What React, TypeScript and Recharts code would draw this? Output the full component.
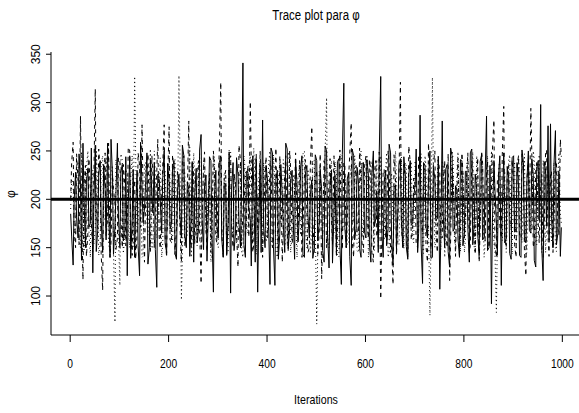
import { LineChart, Line, XAxis, YAxis, ReferenceLine } from 'recharts';

// three MCMC chains; main values at iterations 1,6,11,... and mid values at 3,8,13,...
const iterations = Array.from({ length: 200 }, (_, i) => 1 + i * 5);
const midIterations = Array.from({ length: 200 }, (_, i) => 3 + i * 5);

const chainSolid = [
  185, 132, 228, 160, 215, 258, 150, 232, 175, 124, 256, 168, 240, 145, 210, 258, 140, 225, 172, 258,
  150, 236, 165, 121, 245, 180, 140, 230, 121, 215, 190, 248, 150, 205, 238, 109, 220, 165, 250, 145,
  218, 175, 240, 138, 226, 160, 245, 150, 210, 185, 135, 232, 170, 267, 148, 225, 190, 240, 104, 230,
  160, 245, 140, 215, 178, 103, 238, 165, 225, 150, 341, 140, 228, 180, 245, 135, 104, 236, 282, 150,
  220, 112, 248, 111, 230, 165, 205, 145, 252, 170, 230, 138, 215, 185, 245, 140, 235, 160, 220, 150,
  240, 175, 210, 135, 250, 129, 230, 185, 145, 242, 112, 320, 150, 228, 111, 245, 170, 215, 140, 238,
  160, 225, 135, 250, 180, 145, 327, 140, 230, 170, 248, 132, 215, 190, 242, 150, 225, 138, 240, 175,
  215, 145, 287, 113, 235, 160, 250, 140, 222, 180, 107, 281, 150, 236, 130, 245, 170, 210, 140, 240,
  165, 228, 135, 252, 175, 210, 142, 246, 160, 286, 150, 92, 240, 175, 230, 111, 248, 160, 222, 138,
  245, 170, 215, 140, 238, 155, 250, 165, 225, 130, 240, 298, 116, 230, 276, 278, 150, 271, 165, 141,
];

const chainSolidMid = [
  162, 198, 181, 247, 137, 204, 219, 171, 253, 193, 146, 227, 178, 236, 158, 189, 262, 143, 207, 184,
  228, 157, 244, 196, 139, 231, 188, 152, 259, 176, 212, 133, 241, 186, 148, 226, 199, 221, 154, 237,
  169, 233, 144, 209, 182, 256, 161, 218, 141, 239, 203, 155, 251, 179, 214, 136, 244, 167, 201, 173,
  238, 159, 217, 142, 249, 211, 147, 243, 176, 206, 153, 229, 191, 131, 213, 242, 168, 145, 172, 235,
  178, 253, 151, 222, 138, 236, 174, 258, 149, 219, 181, 241, 156, 232, 143, 227, 184, 205, 139, 246,
  157, 231, 147, 255, 163, 216, 134, 225, 239, 152, 246, 171, 221, 141, 252, 158, 233, 149, 237, 166,
  241, 155, 224, 172, 209, 249, 168, 218, 152, 257, 161, 212, 148, 236, 177, 244, 151, 226, 173, 203,
  252, 165, 154, 238, 171, 219, 139, 233, 178, 244, 158, 183, 231, 146, 253, 167, 214, 159, 241, 152,
  229, 171, 248, 153, 226, 164, 239, 158, 221, 147, 235, 176, 211, 142, 245, 187, 155, 234, 144, 243,
  166, 238, 142, 251, 159, 219, 168, 242, 137, 231, 178, 152, 239, 172, 158, 182, 236, 153, 229, 171,
];

const chainDashed = [
  200, 259, 150, 220, 286, 117, 235, 165, 210, 145, 314, 170, 230, 106, 248, 180, 140, 225, 195, 160,
  240, 150, 215, 175, 250, 142, 220, 165, 235, 277, 135, 210, 180, 245, 150, 228, 160, 205, 277, 140,
  275, 155, 230, 170, 215, 135, 245, 165, 281, 150, 225, 185, 240, 113, 232, 170, 210, 145, 250, 160,
  220, 321, 140, 230, 175, 245, 150, 215, 130, 240, 185, 160, 235, 301, 145, 220, 170, 250, 140, 225,
  160, 238, 150, 215, 180, 245, 135, 228, 165, 250, 155, 210, 175, 240, 140, 225, 185, 150, 275, 145,
  230, 165, 118, 240, 150, 220, 180, 245, 140, 215, 170, 238, 150, 225, 279, 140, 235, 165, 210, 145,
  245, 160, 228, 135, 240, 175, 97, 230, 160, 250, 145, 112, 225, 180, 321, 150, 220, 140, 238, 170,
  215, 150, 245, 165, 230, 135, 220, 180, 250, 145, 228, 160, 240, 150, 116, 235, 175, 210, 140, 248,
  160, 225, 145, 240, 175, 215, 135, 250, 165, 230, 150, 210, 282, 140, 228, 160, 296, 150, 235, 170,
  215, 140, 245, 160, 225, 121, 238, 294, 150, 230, 175, 215, 140, 250, 160, 228, 145, 240, 170, 262,
];

const chainDashedMid = [
  238, 168, 247, 153, 191, 214, 141, 242, 176, 221, 187, 252, 144, 219, 162, 258, 156, 211, 148, 243,
  181, 236, 152, 254, 167, 207, 138, 248, 171, 213, 192, 247, 146, 226, 179, 262, 149, 234, 161, 219,
  158, 246, 143, 229, 172, 241, 152, 205, 163, 239, 154, 231, 168, 182, 249, 146, 227, 174, 233, 155,
  251, 166, 221, 143, 241, 171, 226, 165, 256, 152, 232, 179, 161, 237, 154, 247, 172, 211, 181, 244,
  172, 238, 156, 253, 142, 219, 176, 245, 147, 231, 163, 248, 158, 222, 169, 241, 145, 236, 177, 218,
  143, 247, 161, 229, 174, 242, 153, 219, 169, 251, 148, 236, 179, 246, 157, 221, 166, 253, 155, 233,
  176, 241, 145, 227, 161, 249, 157, 231, 174, 238, 152, 246, 142, 219, 172, 236, 163, 255, 158, 222,
  154, 246, 176, 233, 151, 258, 149, 236, 173, 241, 162, 218, 167, 247, 158, 221, 141, 242, 168, 227,
  181, 248, 152, 229, 143, 243, 169, 237, 157, 239, 176, 251, 154, 219, 173, 246, 158, 224, 179, 241,
  153, 234, 161, 247, 146, 221, 177, 248, 156, 238, 155, 226, 168, 251, 141, 229, 174, 239, 163, 244,
];

const chainDotted = [
  190, 215, 165, 240, 150, 225, 175, 250, 140, 230, 170, 215, 155, 245, 180, 210, 145, 235, 73, 220,
  111, 240, 160, 225, 150, 245, 327, 165, 210, 140, 238, 175, 220, 150, 250, 160, 215, 140, 230, 180,
  245, 155, 225, 170, 328, 96, 235, 160, 215, 140, 248, 175, 220, 150, 240, 165, 210, 135, 230, 185,
  150, 240, 170, 225, 145, 250, 160, 215, 180, 235, 140, 228, 165, 245, 155, 210, 175, 240, 145, 225,
  170, 250, 150, 215, 140, 238, 180, 225, 155, 245, 165, 210, 140, 235, 175, 250, 150, 220, 165, 240,
  71, 230, 175, 215, 305, 150, 240, 165, 225, 140, 245, 170, 210, 155, 235, 180, 220, 145, 250, 160,
  225, 140, 240, 175, 215, 150, 245, 165, 230, 140, 220, 180, 250, 155, 210, 170, 238, 145, 225, 160,
  240, 175, 215, 150, 245, 165, 80, 326, 150, 225, 175, 240, 140, 215, 185, 250, 155, 230, 165, 215,
  145, 240, 175, 225, 150, 245, 160, 215, 140, 230, 180, 250, 155, 83, 235, 170, 215, 145, 240, 165,
  225, 150, 245, 175, 210, 140, 235, 165, 250, 155, 220, 180, 240, 145, 230, 170, 215, 150, 225, 185,
];

const chainDottedMid = [
  221, 174, 239, 157, 248, 146, 232, 168, 219, 153, 251, 142, 236, 179, 244, 155, 228, 147, 241, 162,
  247, 144, 231, 169, 222, 151, 246, 176, 219, 141, 238, 163, 252, 149, 227, 173, 243, 154, 229, 168,
  218, 156, 241, 173, 249, 143, 226, 163, 254, 161, 221, 152, 247, 169, 233, 178, 219, 146, 244, 157,
  239, 162, 228, 144, 251, 173, 227, 155, 219, 147, 245, 168, 234, 157, 253, 143, 221, 176, 238, 156,
  236, 161, 246, 147, 219, 174, 241, 153, 249, 145, 226, 179, 222, 163, 247, 168, 231, 144, 239, 173,
  146, 234, 162, 248, 156, 221, 176, 239, 143, 247, 168, 227, 153, 219, 174, 245, 147, 238, 169, 222,
  246, 154, 233, 147, 241, 172, 219, 158, 248, 146, 227, 169, 221, 153, 244, 149, 234, 176, 239, 155,
  219, 168, 247, 144, 233, 173, 151, 221, 157, 246, 148, 235, 169, 219, 177, 242, 153, 249, 146, 227,
  158, 241, 168, 249, 145, 222, 176, 234, 153, 245, 162, 219, 147, 161, 238, 157, 229, 173, 246, 143,
  239, 168, 227, 155, 247, 146, 221, 174, 241, 153, 246, 145, 233, 171, 219, 157, 238, 146, 248, 175,
];

const xTicks = [0, 200, 400, 600, 800, 1000];
const yTicks = [100, 150, 200, 250, 300, 350];

const rows = iterations.flatMap((it, i) => [
  { iter: it, a: chainSolid[i], b: chainDashed[i], c: chainDotted[i] },
  { iter: midIterations[i], a: chainSolidMid[i], b: chainDashedMid[i], c: chainDottedMid[i] },
]);

const font = "'Liberation Sans', Arial, Helvetica, sans-serif";

function XTick(props: any) {
  const { x, payload } = props;
  return (
    <text transform={`translate(${x}, 368) scale(0.82, 1)`} textAnchor="middle" fontSize={12.5} fontFamily={font} fill="#000">
      {payload.value}
    </text>
  );
}

function YTick(props: any) {
  const { y, payload } = props;
  return (
    <text transform={`translate(40, ${y}) rotate(-90)`} textAnchor="middle" fontSize={12} fontFamily={font} fill="#000">
      {payload.value}
    </text>
  );
}

export default function App() {
  return (
    <div style={{ position: 'absolute', left: 0, top: 0, width: 579, height: 413, overflow: 'hidden', background: '#fff' }}>
      <LineChart width={600} height={413} data={rows} margin={{ top: 52, right: 18, bottom: 0, left: 0 }}>
        <XAxis
          dataKey="iter"
          type="number"
          domain={[-38.96, 1039.96]}
          ticks={xTicks}
          interval={0}
          allowDataOverflow
          height={78}
          tickSize={7}
          tick={XTick}
          axisLine={{ stroke: '#000' }}
          tickLine={{ stroke: '#000' }}
        />
        <XAxis
          xAxisId="top"
          orientation="top"
          dataKey="iter"
          type="number"
          domain={[-38.96, 1039.96]}
          height={0}
          tick={false}
          tickLine={false}
          axisLine={{ stroke: '#000' }}
        />
        <YAxis
          type="number"
          domain={[59.7, 352.3]}
          ticks={yTicks}
          interval={0}
          allowDataOverflow
          width={51}
          tickSize={5}
          tick={YTick}
          axisLine={{ stroke: '#000' }}
          tickLine={{ stroke: '#000' }}
        />
        <Line type="linear" dataKey="c" stroke="#000" strokeWidth={1} strokeDasharray="1 3" dot={false} isAnimationActive={false} />
        <Line type="linear" dataKey="b" stroke="#000" strokeWidth={1} strokeDasharray="4 4" dot={false} isAnimationActive={false} />
        <Line type="linear" dataKey="a" stroke="#000" strokeWidth={1} dot={false} isAnimationActive={false} />
        <ReferenceLine y={200} stroke="#000" strokeWidth={3} ifOverflow="extendDomain" />
      </LineChart>
      <svg width={579} height={413} style={{ position: 'absolute', left: 0, top: 0, pointerEvents: 'none' }}>
        <text transform="translate(316, 20) scale(0.82, 1)" textAnchor="middle" fontSize={14} fontFamily={font} fill="#000">
          Trace plot para φ
        </text>
        <text transform="translate(316, 404) scale(0.82, 1)" textAnchor="middle" fontSize={13} fontFamily={font} fill="#000">
          Iterations
        </text>
        <text transform="translate(15, 194) rotate(-90)" textAnchor="middle" fontSize={12} fontFamily={font} fill="#000">
          φ
        </text>
      </svg>
    </div>
  );
}
